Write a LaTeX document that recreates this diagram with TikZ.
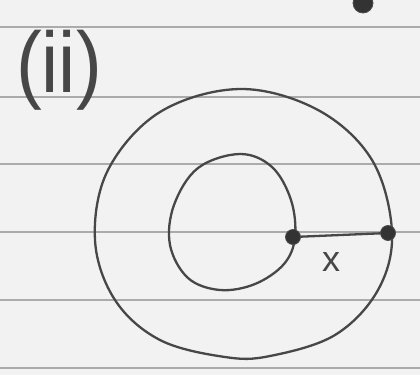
\documentclass[tikz,border=0pt]{standalone}
\usepackage{fontspec}
\newfontfamily\handfont{Liberation Sans}
\begin{document}
\begin{tikzpicture}[x=1pt,y=-1pt,
  paperline/.style={draw=black!33,line width=1.5pt},
  pen/.style={draw=black!72,line width=2.3pt,line cap=round,line join=round},
  blob/.style={circle,fill=black!80,draw=black!70,line width=0.8pt,minimum size=15pt,inner sep=0pt}]
\fill[black!5] (0,0) rectangle (420,375);
\useasboundingbox (0,0) rectangle (420,375);
\foreach \yy in {27,97,164,232,300,368} \draw[paperline] (0,\yy) -- (420,\yy);
% top-right blob (cut off)
\node[blob,minimum size=20pt] (top) at (363,3) {};
% label
\node[text=black!72,font=\handfont\fontsize{86}{88}\selectfont,inner sep=0pt,xscale=0.9] (lab) at (59,70) {(ii)};
% outer loop
\draw[pen] plot[smooth cycle,tension=0.6] coordinates {(240,89) (318,110) (372,160) (392,232) (378,290) (335,335) (270,356) (225,357) (160,340) (115,300) (95,240) (108,170) (160,112)};
% inner loop
\draw[pen] plot[smooth cycle,tension=0.6] coordinates {(240,154) (272,167) (291,200) (295,237) (284,264) (255,284) (220,290) (188,278) (170,245) (174,205) (198,168)};
% blobs and connector
\node[blob] (a) at (293,237) {};
\node[blob] (b) at (388,233) {};
\draw[pen] (a) -- (b);
\node[text=black!72,font=\handfont\fontsize{36}{38}\selectfont,inner sep=0pt] (x) at (331,262) {x};
\end{tikzpicture}
\end{document}
